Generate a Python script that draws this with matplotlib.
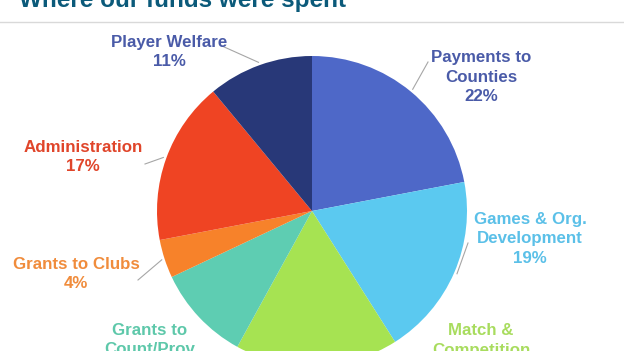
import math
import matplotlib.pyplot as plt

# data, clockwise from 12 o'clock
categories = ["Payments to\nCounties", "Games & Org.\nDevelopment", "Match &\nCompetition",
              "Grants to\nCount/Prov", "Grants to Clubs", "Administration", "Player Welfare"]
shares = [22, 19, 17, 10, 4, 17, 11]
slice_colors = ["#4E68C8", "#5BC9F0", "#A6E352", "#5ECDB2", "#F7822A", "#EF4423", "#283878"]
text_colors = ["#4A5BA8", "#5BC0E8", "#A8DC5E", "#5EC8AA", "#F08C3C", "#E0452A", "#4A5BA8"]

# layout in pixel coords (y measured from top)
W, H = 624, 351
cx, cy, r = 312, 211, 155
label_pos = [(481, 77), (530, 239), (481, 350), (150, 350), (76, 274), (83, 157), (169, 52)]
leader_start = [(428, 62), (468, 243), None, None, (138, 280), (145, 164), (222, 46)]

fig = plt.figure(figsize=(W / 100, H / 100), dpi=100)
ax = fig.add_axes([0, 0, 1, 1])

wedges, _ = ax.pie(shares, colors=slice_colors, startangle=90, counterclock=False,
                   center=(cx, H - cy), radius=r, wedgeprops=dict(linewidth=0))

ax.set_xlim(0, W)
ax.set_ylim(0, H)
ax.set_aspect("equal")
ax.axis("off")

for i, w in enumerate(wedges):
    x, y = label_pos[i]
    ax.text(x, H - y, f"{categories[i]}\n{shares[i]}%", color=text_colors[i],
            ha="center", va="center", fontsize=12.2, fontweight="bold",
            family="Liberation Sans", linespacing=1.38, clip_on=False)
    if leader_start[i] is not None:
        mid = math.radians((w.theta1 + w.theta2) / 2)
        ex = cx + (r + 3) * math.cos(mid)
        ey = (H - cy) + (r + 3) * math.sin(mid)
        sx, sy = leader_start[i]
        ax.plot([sx, ex], [H - sy, ey], color="#A6A6A6", lw=0.8)

# title (cropped at top in the original) and rule line
ax.text(19, H - 7, "Where our funds were spent", color="#0B5A7A", fontsize=17.5,
        fontweight="bold", family="Liberation Sans", va="baseline", clip_on=False)
ax.plot([0, W], [H - 21.5, H - 21.5], color="#D9D9D9", lw=1)

fig.savefig("out.png", dpi=100)
